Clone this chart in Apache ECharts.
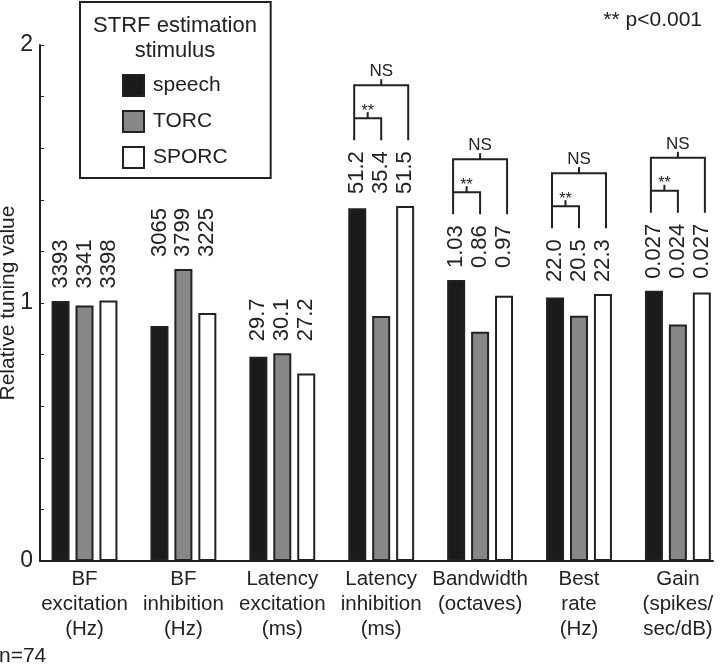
<!DOCTYPE html>
<html><head><meta charset="utf-8">
<script src="https://cdn.jsdelivr.net/npm/echarts@6/dist/echarts.min.js"></script>
<style>html,body{margin:0;padding:0;background:#fff}#c{width:720px;height:664px}</style>
</head><body><div id="c"></div>
<script>
const categories = ['BF\nexcitation\n(Hz)', 'BF\ninhibition\n(Hz)', 'Latency\nexcitation\n(ms)', 'Latency\ninhibition\n(ms)', 'Bandwidth\n(octaves)', 'Best\nrate\n(Hz)', 'Gain\n(spikes/\nsec/dB)'];
const seriesNames = ['speech', 'TORC', 'SPORC'];
const speech = [1.008, 0.911, 0.792, 1.367, 1.089, 1.021, 1.047];
const torc   = [0.990, 1.132, 0.805, 0.950, 0.889, 0.951, 0.917];
const sporc  = [1.010, 0.961, 0.727, 1.376, 1.028, 1.035, 1.041];
const speechLabels = ['3393', '3065', '29.7', '51.2', '1.03', '22.0', '0.027'];
const torcLabels   = ['3341', '3799', '30.1', '35.4', '0.86', '20.5', '0.024'];
const sporcLabels  = ['3398', '3225', '27.2', '51.5', '0.97', '22.3', '0.027'];
const yTickLabels = [0, 1, 2];
const bracketGroups = [3, 4, 5, 6];
const innerMark = '**';
const outerMark = 'NS';
const legendTitle = 'STRF estimation\nstimulus';
const pNote = '** p<0.001';
const nNote = 'n=74';

const FONT = 'Liberation Sans, Arial, Helvetica, sans-serif';
const INK = '#222';
const LABEL_FS = 22, LABEL_DIST = 12;
const colors = ['#1b1b1b', '#878787', '#ffffff'];
const values = [speech, torc, sporc];
const labelSets = [speechLabels, torcLabels, sporcLabels];
const groupMax = categories.map((_, i) => Math.max(speech[i], torc[i], sporc[i]));

const mctx = document.createElement('canvas').getContext('2d');
mctx.font = LABEL_FS + 'px ' + FONT;
const measure = t => mctx.measureText(t).width;

const chart = echarts.init(document.getElementById('c'), null, {renderer: 'canvas'});
const xCommon = {type: 'value', min: -0.45, max: 6.355, splitLine: {show: false}};

const barSeries = values.map((arr, k) => ({
  name: seriesNames[k], type: 'bar', xAxisIndex: 0, barWidth: 18, barGap: '33%',
  data: arr.map((v, i) => [i, v]),
  itemStyle: {color: colors[k], borderColor: INK, borderWidth: 2},
  emphasis: {disabled: true}
}));
const labelSeries = labelSets.map((labs, k) => ({
  name: seriesNames[k] + ' label', type: 'bar', xAxisIndex: 1, barWidth: 18, barGap: '33%',
  silent: true,
  data: groupMax.map((v, i) => [i, v]),
  itemStyle: {color: 'rgba(0,0,0,0)', borderWidth: 0},
  label: {show: true, position: 'top', rotate: 90, align: 'left', verticalAlign: 'middle',
    distance: LABEL_DIST, fontSize: LABEL_FS, fontFamily: FONT, color: INK,
    formatter: p => labs[p.dataIndex]}
}));

const bracketSeries = {
  type: 'custom', xAxisIndex: 0, yAxisIndex: 0, silent: true, clip: false,
  data: bracketGroups.map(i => [i, groupMax[i]]),
  renderItem: (params, api) => {
    const i = api.value(0);
    const p = api.coord([i, api.value(1)]);
    const len = Math.max(...labelSets.map(s => measure(s[i])));
    const base = p[1] - LABEL_DIST - len - 11;
    const x0 = p[0] - 27, x1 = p[0], x2 = p[0] + 27;
    const inner = base - 22, outer = base - 55;
    const st = {stroke: INK, lineWidth: 2, fill: null};
    const xm = (x0 + x1) / 2;
    return {type: 'group', children: [
      {type: 'polyline', shape: {points: [[x0, base], [x0, outer], [x2, outer], [x2, base]]}, style: st},
      {type: 'polyline', shape: {points: [[x1, base], [x1, inner], [x0, inner]]}, style: st},
      {type: 'line', shape: {x1: x1, y1: outer, x2: x1, y2: outer - 6}, style: st},
      {type: 'line', shape: {x1: xm, y1: inner, x2: xm, y2: inner - 6}, style: st},
      {type: 'text', style: {text: outerMark, x: x1, y: outer - 5, align: 'center', verticalAlign: 'bottom', font: '17px ' + FONT, fill: INK}},
      {type: 'text', style: {text: innerMark, x: xm, y: inner + 1, align: 'center', verticalAlign: 'bottom', font: '16px ' + FONT, fill: INK}}
    ]};
  }
};

chart.setOption({
  animation: false,
  backgroundColor: '#fff',
  textStyle: {fontFamily: FONT},
  grid: {left: 40, right: 7, top: 45, bottom: 103, containLabel: false, outerBoundsMode: 'none'},
  title: [
    {text: legendTitle, left: 175, top: 13, textAlign: 'center', padding: 0,
      textStyle: {fontSize: 22, fontWeight: 'normal', color: INK, lineHeight: 25, fontFamily: FONT}},
    {text: pNote, right: 18, top: 10, padding: 0,
      textStyle: {fontSize: 21, fontWeight: 'normal', color: INK, fontFamily: FONT}},
    {text: nNote, left: -1, top: 646, padding: 0,
      textStyle: {fontSize: 21, fontWeight: 'normal', color: INK, fontFamily: FONT}}
  ],
  legend: {
    data: seriesNames, orient: 'vertical', left: 80, top: 2,
    padding: [72, 43, 9, 42], itemGap: 13, itemWidth: 21, itemHeight: 21,
    borderColor: INK, borderWidth: 2, icon: 'rect', selectedMode: false,
    backgroundColor: '#fff',
    itemStyle: {borderColor: INK, borderWidth: 2},
    textStyle: {fontSize: 21, color: INK, fontFamily: FONT, lineHeight: 21, padding: [0, 0, 0, 4]}
  },
  xAxis: [
    Object.assign({}, xCommon, {
      axisLine: {show: true, onZero: false, lineStyle: {color: INK, width: 2}},
      axisTick: {show: false},
      axisLabel: {customValues: categories.map((_, i) => i), formatter: v => categories[Math.round(v)],
        fontSize: 20.5, lineHeight: 25, color: INK, margin: 6, fontFamily: FONT}
    }),
    Object.assign({}, xCommon, {show: false})
  ],
  yAxis: {
    type: 'value', min: 0, max: 2, interval: 0.2,
    axisLine: {show: true, onZero: false, lineStyle: {color: INK, width: 2}},
    axisTick: {show: true, inside: true, length: 4, lineStyle: {color: INK, width: 1}},
    axisLabel: {customValues: yTickLabels, fontSize: 23, color: INK, margin: 7, fontFamily: FONT},
    splitLine: {show: false},
    name: 'Relative tuning value', nameLocation: 'middle', nameGap: 21, nameMoveOverlap: false,
    nameTextStyle: {fontSize: 21, color: INK, fontFamily: FONT}
  },
  series: [...barSeries, ...labelSeries, bracketSeries]
});
</script>
</body></html>
